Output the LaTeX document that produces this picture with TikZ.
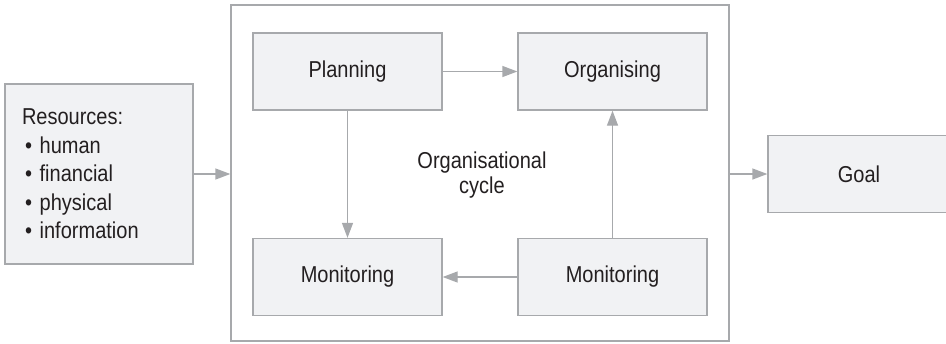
\documentclass[tikz,border=0pt]{standalone}
\usepackage{fontspec}
\setmainfont{Liberation Sans}[FakeStretch=0.87]
\usetikzlibrary{arrows.meta}
\definecolor{boxline}{HTML}{A7A9AC}
\definecolor{boxfill}{HTML}{F1F2F4}
\definecolor{ink}{HTML}{231F20}

\begin{document}
\begin{tikzpicture}[x=0.5pt, y=-0.5pt,
    every node/.style={text=ink, font=\fontsize{11.5}{14.25}\selectfont},
    block/.style={draw=boxline, fill=boxfill, line width=0.65pt, minimum width=94.5pt, minimum height=38.5pt, align=center, inner sep=0pt},
    link/.style={-{Triangle[length=7.5pt,width=5.5pt]}, draw=boxline, line width=0.65pt}]
    \useasboundingbox (0,0) rectangle (946,343);
    \node[draw=boxline, line width=0.65pt, minimum width=249pt, minimum height=168pt] at (480,173) (frame) {};
    \node[block, minimum width=94pt, minimum height=90pt, text width=77pt, inner xsep=8.5pt, align=left] at (99,174) (res) {Resources:\\\hspace{1.5pt}\textbullet\ human\\\hspace{1.5pt}\textbullet\ financial\\\hspace{1.5pt}\textbullet\ physical\\\hspace{1.5pt}\textbullet\ information};
    \node[block] at (347.5,71.5) (plan) {Planning};
    \node[block] at (612.5,71.5) (org) {Organising};
    \node[block] at (347.5,277) (monL) {Monitoring};
    \node[block] at (612.5,277) (monR) {Monitoring};
    \node[block, minimum width=91pt] at (859,174) (goal) {Goal};
    \node[align=center, font=\fontsize{11.5}{12.5}\selectfont] at (482,175) (cycle) {Organisational\\cycle};
    \draw[link] (res.east) -- (res.east -| frame.west);
    \draw[link] (frame.east |- goal.west) -- (goal.west);
    \draw[link] (plan) -- (org);
    \draw[link] (plan) -- (monL);
    \draw[link] (monR) -- (monL);
    \draw[link] (monR) -- (org);
\end{tikzpicture}
\end{document}
